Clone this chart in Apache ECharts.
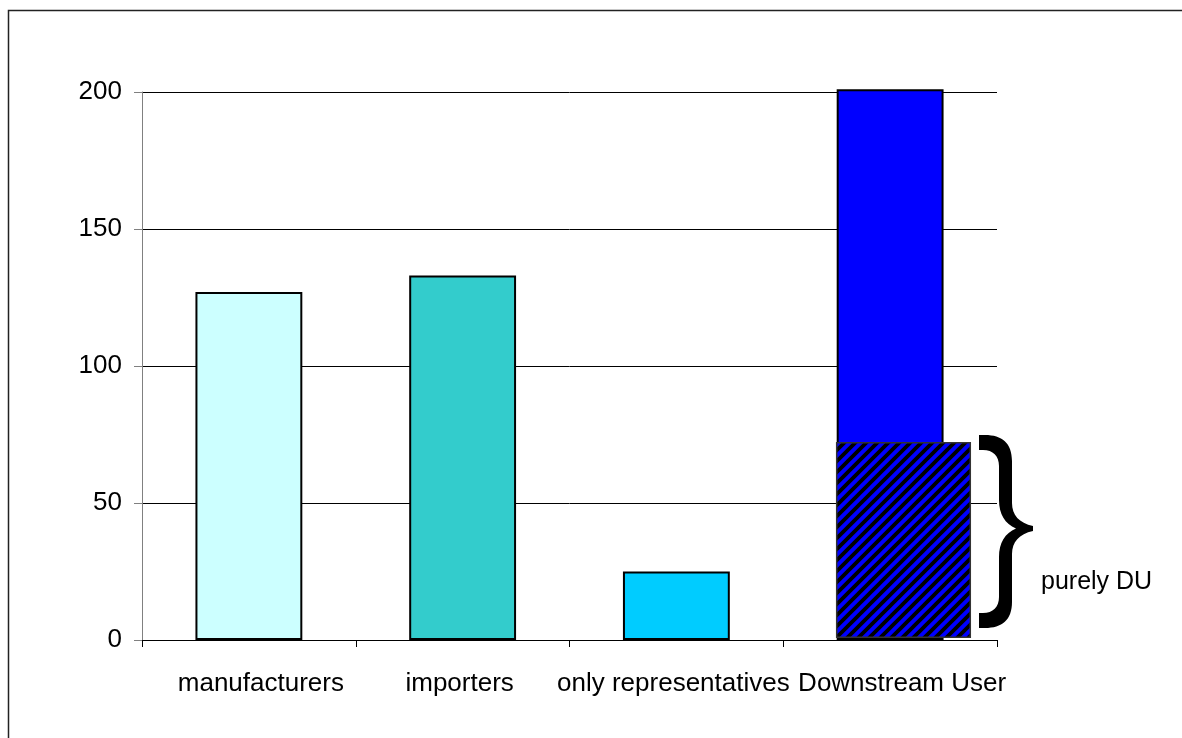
<!DOCTYPE html>
<html>
<head>
<meta charset="utf-8">
<script src="https://cdn.jsdelivr.net/npm/echarts@6/dist/echarts.min.js"></script>
<style>
html,body{margin:0;padding:0;background:#fff;}
#chart{width:1182px;height:738px;}
</style>
</head>
<body>
<div id="chart"></div>
<script>
const categories = ['manufacturers', 'importers', 'only representatives', 'Downstream User'];
const values = [127, 133, 25, 201];
const barColors = ['#CCFFFF', '#33CCCC', '#00CCFF', '#0000FF'];
const pureDU = [[3, 1, 72]]; // [category index, low, high]
const pureLabel = 'purely DU';
const yMin = 0, yMax = 200, yInterval = 50;

function hatchPattern() {
  const s = 11;
  const c = document.createElement('canvas');
  c.width = s; c.height = s;
  const g = c.getContext('2d');
  g.fillStyle = '#0000FF';
  g.fillRect(0, 0, s, s);
  g.strokeStyle = '#000';
  g.lineWidth = 3.8;
  g.beginPath();
  g.moveTo(-3, 3); g.lineTo(3, -3);
  g.moveTo(-1, s + 1); g.lineTo(s + 1, -1);
  g.moveTo(s - 3, s + 3); g.lineTo(s + 3, s - 3);
  g.stroke();
  return c;
}
const pattern = { image: hatchPattern(), repeat: 'repeat' };

const bracePath = 'M0 0 L6 0 C23 0 33 8 33 26 L33 68 C33 80 40 88 54 91 L54 96 C40 99 33 107 33 119 ' +
  'L33 167 C33 185 23 193 6 193 L0 193 L0 178 L4 178 C14 178 20 172 20 162 L20 122 ' +
  'C20 108 26 98 37 93.5 C26 89 20 79 20 65 L20 31 C20 21 14 15 4 15 L0 15 Z';
echarts.graphic.registerShape('brace', echarts.graphic.extendPath(bracePath, {}));

// small horizontal nudges of the category labels (as in the original)
const labelPads = [[0, 0, 0, 24], [0, 6, 0, 0], [0, 6, 0, 0], [0, 0, 0, 24]];

const FONT = 'Arial, "Liberation Sans", sans-serif';
const chart = echarts.init(document.getElementById('chart'));
chart.setOption({
  animation: false,
  backgroundColor: '#fff',
  grid: { left: 142, right: 185, top: 92, bottom: 98 },
  xAxis: {
    type: 'category',
    data: categories.map((c, i) => ({ value: c, textStyle: { padding: labelPads[i] } })),
    axisLine: { lineStyle: { color: '#000', width: 1 } },
    axisTick: { show: true, length: 7, lineStyle: { color: '#000' } },
    axisLabel: { color: '#000', fontSize: 26, fontFamily: FONT, margin: 31, interval: 0 },
    splitLine: { show: false }
  },
  yAxis: {
    type: 'value',
    min: yMin, max: yMax, interval: yInterval,
    axisLine: { show: true, lineStyle: { color: '#808080', width: 1 } },
    axisTick: { show: true, length: 8, lineStyle: { color: '#808080' } },
    axisLabel: { color: '#000', fontSize: 26, fontFamily: FONT, margin: 20 },
    splitLine: { show: true, lineStyle: { color: '#000', width: 1 } }
  },
  series: [
    {
      type: 'bar',
      barWidth: '50%',
      clip: false,
      data: values.map((v, i) => ({
        value: v,
        itemStyle: { color: barColors[i], borderColor: '#000', borderWidth: 2 }
      })),
      z: 2
    },
    {
      type: 'custom',
      z: 3,
      clip: false,
      data: pureDU,
      renderItem: function (params, api) {
        const lo = api.coord([api.value(0), api.value(1)]);
        const hi = api.coord([api.value(0), api.value(2)]);
        const band = api.size([1, 0])[0];
        const x = lo[0] - band * 0.25;
        return {
          type: 'rect',
          shape: { x: x, y: hi[1], width: band * 0.625, height: lo[1] - hi[1] },
          style: { fill: pattern, stroke: '#333', lineWidth: 1.5 }
        };
      }
    }
  ],
  graphic: [
    {
      type: 'rect', silent: true, z: 10,
      shape: { x: 8.5, y: 10.5, width: 1300, height: 900 },
      style: { fill: 'none', stroke: '#222', lineWidth: 1.5 }
    },
    {
      type: 'brace', z: 10, x: 979, y: 435,
      style: { fill: '#000', stroke: 'none' }
    },
    {
      type: 'text', z: 10, left: 1041, top: 570,
      style: { text: pureLabel, fontSize: 25, fontFamily: FONT, fill: '#000' }
    }
  ]
});
</script>
</body>
</html>
